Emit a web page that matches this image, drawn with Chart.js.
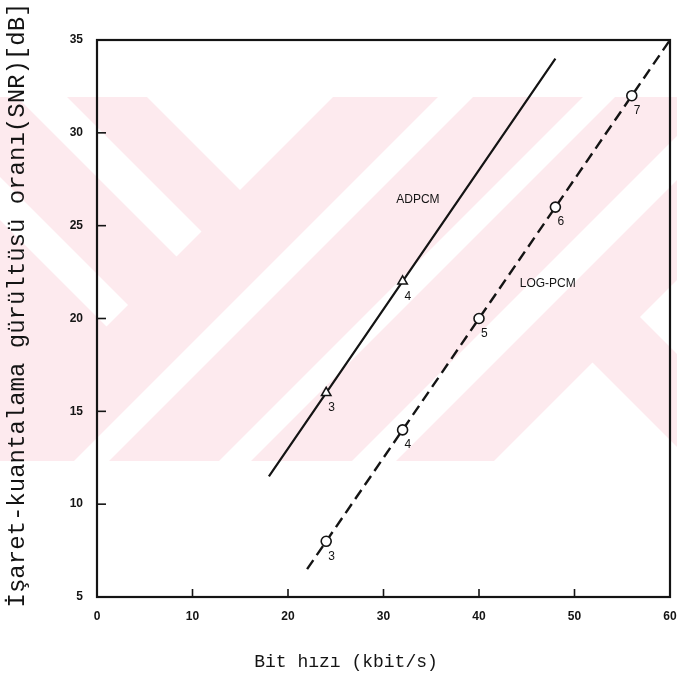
<!DOCTYPE html>
<html>
<head>
<meta charset="utf-8">
<script src="https://cdn.jsdelivr.net/npm/chart.js@4.4.1/dist/chart.umd.min.js"></script>
<style>
  html, body { margin: 0; padding: 0; background: #ffffff; }
  #wrap { width: 677px; height: 674px; }
</style>
</head>
<body>
<div id="wrap"><canvas id="c" width="677" height="674"></canvas></div>
<script>
// ---------------- data ----------------
const xTicks = [0, 10, 20, 30, 40, 50, 60];
const yTicks = [5, 10, 15, 20, 25, 30, 35];

const adpcmX = [18, 24, 32, 48];
const adpcmY = [11.5, 16, 22, 34];
const adpcmMarker = [0, 1, 1, 0];
const adpcmBits = ['', '3', '4', ''];

const logpcmX = [22, 24, 32, 40, 48, 56, 60];
const logpcmY = [6.5, 8, 14, 20, 26, 32, 35];
const logpcmMarker = [0, 1, 1, 1, 1, 1, 0];
const logpcmBits = ['', '3', '4', '5', '6', '7', ''];

const seriesNames = ['ADPCM', 'LOG-PCM'];
const seriesLabelX = [33.6, 47.2];
const seriesLabelY = [26.4, 21.9];

const xTitle = 'Bit hızı (kbit/s)';
const yTitle = 'İşaret-kuantalama gürültüsü oranı(SNR)[dB]';

// ---------------- helpers ----------------
const toPts = (xs, ys) => xs.map((x, i) => ({ x: x, y: ys[i] }));
const INK = '#141414';
const SANS = '"Liberation Sans", Arial, sans-serif';
const MONO = '"Liberation Mono", "Courier New", monospace';

// faint watermark (decorative background band)
const watermark = {
  id: 'watermark',
  beforeDraw(chart) {
    const ctx = chart.ctx;
    const top = 97, bottom = 461;
    ctx.save();
    ctx.beginPath();
    ctx.rect(0, top, chart.width, bottom - top);
    ctx.clip();
    ctx.fillStyle = '#fdeaee';
    ctx.fillRect(0, top, chart.width, bottom - top);
    ctx.fillStyle = '#ffffff';
    const P = (s, d) => [(s + d) / 2, (s - d) / 2];
    const regs = [
      [-3000, 430, 50, 3000],
      [-3000, 433, -80, -30],
      [-3000, 433, -220, -177],
      [535, 570, -3000, 3000],
      [680, 712, -3000, 3000],
      [813, 857, -3000, 3000],
      [955, 4000, -3000, 230],
      [957, 4000, 323, 3000]
    ];
    regs.forEach(r => {
      const [s1, s2, d1, d2] = r;
      const pts = [P(s1, d1), P(s2, d1), P(s2, d2), P(s1, d2)];
      ctx.beginPath();
      ctx.moveTo(pts[0][0], pts[0][1]);
      for (let i = 1; i < 4; i++) ctx.lineTo(pts[i][0], pts[i][1]);
      ctx.closePath();
      ctx.fill();
    });
    ctx.restore();
  }
};

// frame, inward ticks, point numbers, series names and axis titles
const decor = {
  id: 'decor',
  afterDatasetsDraw(chart) {
    const ctx = chart.ctx;
    const a = chart.chartArea;
    const xs = chart.scales.x, ys = chart.scales.y;
    ctx.save();
    ctx.strokeStyle = INK;
    ctx.lineWidth = 2.2;
    ctx.strokeRect(a.left, a.top, a.right - a.left, a.bottom - a.top);
    ctx.lineWidth = 1.6;
    xTicks.forEach(v => {
      const px = xs.getPixelForValue(v);
      ctx.beginPath(); ctx.moveTo(px, a.bottom); ctx.lineTo(px, a.bottom - 8); ctx.stroke();
    });
    yTicks.forEach(v => {
      const py = ys.getPixelForValue(v);
      ctx.beginPath(); ctx.moveTo(a.left, py); ctx.lineTo(a.left + 9, py); ctx.stroke();
    });
    // point numbers
    ctx.fillStyle = INK;
    ctx.font = '12px ' + SANS;
    ctx.textAlign = 'left';
    ctx.textBaseline = 'middle';
    [adpcmBits, logpcmBits].forEach((bits, di) => {
      const meta = chart.getDatasetMeta(di);
      bits.forEach((b, i) => {
        if (!b) return;
        const el = meta.data[i];
        ctx.fillText(b, el.x + 2, el.y + 15);
      });
    });
    // series names
    ctx.font = '12px ' + SANS;
    ctx.textAlign = 'center';
    seriesNames.forEach((n, i) => {
      ctx.fillText(n, xs.getPixelForValue(seriesLabelX[i]), ys.getPixelForValue(seriesLabelY[i]));
    });
    // axis titles
    ctx.font = '18px ' + MONO;
    ctx.fillText(xTitle, 346, 662);
    ctx.translate(18, 305);
    ctx.rotate(-Math.PI / 2);
    ctx.font = '24px ' + MONO;
    ctx.fillText(yTitle, 0, 0);
    ctx.restore();
  }
};

new Chart(document.getElementById('c'), {
  type: 'scatter',
  data: {
    datasets: [
      {
        label: seriesNames[0],
        data: toPts(adpcmX, adpcmY),
        showLine: true,
        borderColor: INK,
        borderWidth: 2.2,
        pointStyle: 'triangle',
        pointRadius: adpcmMarker.map(m => m ? 5.5 : 0),
        pointBackgroundColor: '#ffffff',
        pointBorderColor: INK,
        pointBorderWidth: 1.5,
        tension: 0
      },
      {
        label: seriesNames[1],
        data: toPts(logpcmX, logpcmY),
        showLine: true,
        borderColor: INK,
        borderWidth: 2.4,
        borderDash: [11, 6],
        pointStyle: 'circle',
        pointRadius: logpcmMarker.map(m => m ? 5 : 0),
        pointBackgroundColor: '#ffffff',
        pointBorderColor: INK,
        pointBorderWidth: 1.6,
        tension: 0
      }
    ]
  },
  options: {
    responsive: false,
    animation: false,
    devicePixelRatio: 1,
    layout: { padding: { left: 0, right: 7, top: 40, bottom: 0 } },
    plugins: {
      legend: { display: false },
      tooltip: { enabled: false }
    },
    scales: {
      x: {
        type: 'linear',
        min: 0, max: 60,
        afterBuildTicks: s => { s.ticks = xTicks.map(v => ({ value: v })); },
        afterFit: s => { s.height = 77; s.paddingLeft = 0; s.paddingRight = 0; },
        grid: { display: false, drawTicks: false },
        border: { display: false },
        ticks: {
          color: INK,
          padding: 12,
          font: { family: SANS, size: 12, weight: 'bold' },
          maxRotation: 0
        },
        title: { display: false, text: xTitle }
      },
      y: {
        type: 'linear',
        min: 5, max: 35,
        afterBuildTicks: s => { s.ticks = yTicks.map(v => ({ value: v })); },
        afterFit: s => { s.width = 97; s.paddingTop = 0; s.paddingBottom = 0; },
        grid: { display: false, drawTicks: false },
        border: { display: false },
        ticks: {
          color: INK,
          padding: 14,
          font: { family: SANS, size: 12, weight: 'bold' }
        },
        title: { display: false, text: yTitle }
      }
    }
  },
  plugins: [watermark, decor]
});
</script>
</body>
</html>
